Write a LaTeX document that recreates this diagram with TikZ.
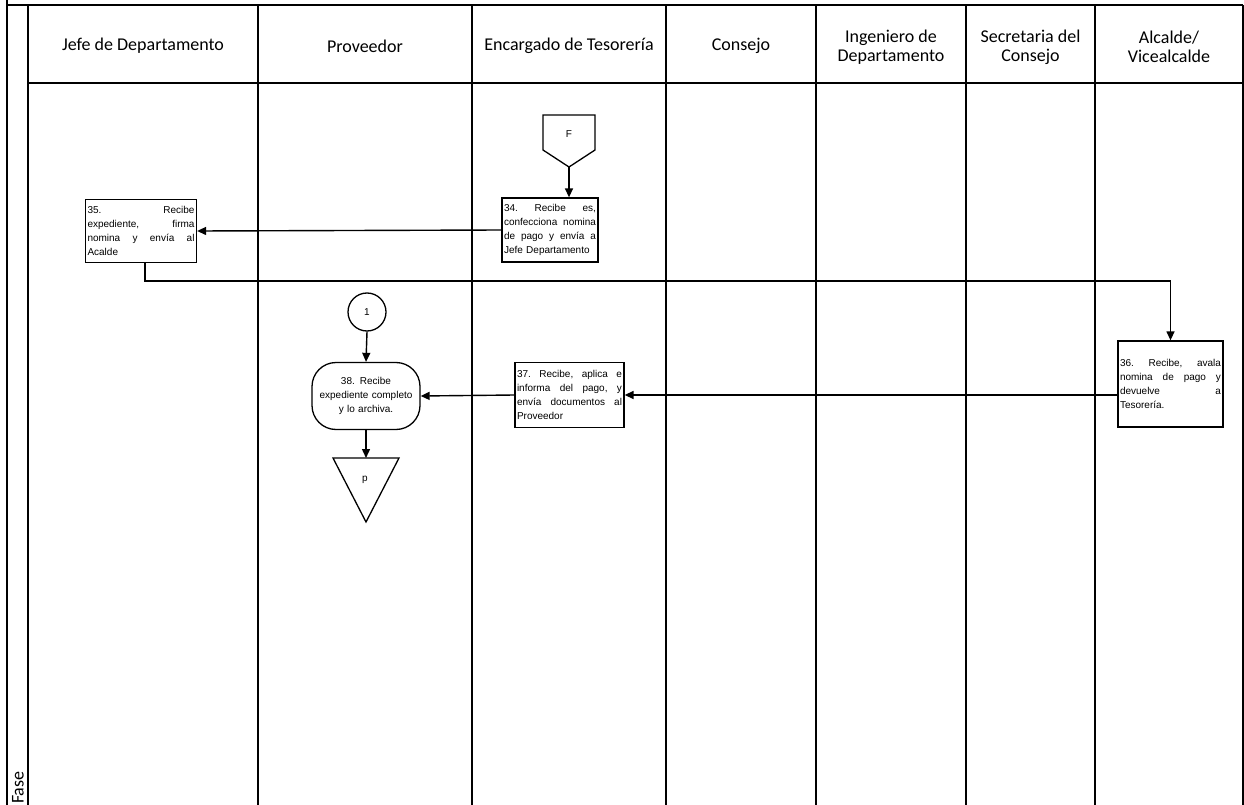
\documentclass[tikz,border=0pt]{standalone}
\usepackage{fontspec}
\setmainfont{Carlito}
\newfontfamily\boxfont{Liberation Sans}
\usetikzlibrary{arrows.meta}

\begin{document}
\begin{tikzpicture}[x=1pt,y=-1pt,
  lane/.style={line width=2pt},
  hdr/.style={align=center, font=\fontsize{18}{19}\selectfont, inner sep=0pt},
  task/.style={draw, line width=1.3pt, inner xsep=2pt, inner ysep=0pt,
    align=left, font=\boxfont\fontsize{10}{14}\selectfont},
  flow/.style={line width=1.4pt, -{Triangle[length=9pt,width=8pt]}},
  sym/.style={draw, line width=1.3pt},
  symtext/.style={font=\boxfont\fontsize{10}{12}\selectfont, inner sep=0pt}
]
\useasboundingbox (0,0) rectangle (1244,805);

% frame and swimlanes
\draw[lane] (7,0) -- (7,805);
\draw[lane] (7,5) -- (1243,5);
\draw[lane] (28,83) -- (1243,83);
\foreach \x in {28,258,472,666,816,966,1095,1243}
  \draw[lane] (\x,5) -- (\x,805);

% lane headers
\node[hdr] (h1) at (143,46) {Jefe de Departamento};
\node[hdr] (h2) at (365,46) {Proveedor};
\node[hdr] (h3) at (569,46) {Encargado de Tesorería};
\node[hdr] (h4) at (741,46) {Consejo};
\node[hdr] (h5) at (891,47) {Ingeniero de\\Departamento};
\node[hdr] (h6) at (1030.5,47) {Secretaria del\\Consejo};
\node[hdr] (h7) at (1169,47) {Alcalde/\\Vicealcalde};
\node[hdr, rotate=90, anchor=west] (fase) at (18,804) {Fase};

% off-page connector F
\draw[sym] (543,115) -- (595,115) -- (595,150) -- (569,167) -- (543,150) -- cycle;
\node[symtext] (F) at (569,134) {F};
\coordinate (Ftip) at (569,167);

% tasks (justified lines are spread with \hfill)
\node[task, text width=92pt, minimum height=64pt] (b34) at (550,230)
  {34.\hfill Recibe\hfill es,\\confecciona\hfill nomina\\de\hfill pago\hfill y\hfill envía\hfill a\\Jefe Departamento};
\node[task, text width=107pt, minimum height=63pt] (b35) at (141,231)
  {35.\hfill Recibe\\expediente,\hfill firma\\nomina\hfill y\hfill envía\hfill al\\Acalde};
\node[task, text width=101pt, minimum height=86pt] (b36) at (1170.5,384)
  {36.\hfill Recibe,\hfill avala\\nomina\hfill de\hfill pago\hfill y\\devuelve\hfill a\\Tesorería.};
\node[task, text width=105pt, minimum height=65pt] (b37) at (569.5,395)
  {37.\hfill Recibe,\hfill aplica\hfill e\\informa\hfill del\hfill pago,\hfill y\\envía\hfill documentos\hfill al\\Proveedor};
\node[task, align=center, rounded corners=24pt, text width=104pt, minimum height=67pt] (b38) at (366,396)
  {38. Recibe\\expediente completo\\y lo archiva.};

% on-page connector 1
\node[sym, circle, minimum size=38pt, symtext] (c1) at (367,312) {1};

% off-page connector p
\draw[sym] (333,458) -- (399,458) -- (366,522) -- cycle;
\node[symtext] (p) at (365,480) {p};
\coordinate (ptop) at (366,458);

% flow
\coordinate (bend) at (145,281);
\draw[flow] (Ftip) -- (Ftip |- b34.north);
\draw[flow] (b34.west) -- (b35.east);
\draw[flow] (b35.south -| bend) -- (bend) -| (b36.north);
\draw[flow] (b37.east -| b36.west) -- (b37.east);
\draw[flow] (b37.west) -- (b38.east);
\draw[flow] (c1.south) -- (b38.north);
\draw[flow] (b38.south) -- (ptop);
\end{tikzpicture}
\end{document}
